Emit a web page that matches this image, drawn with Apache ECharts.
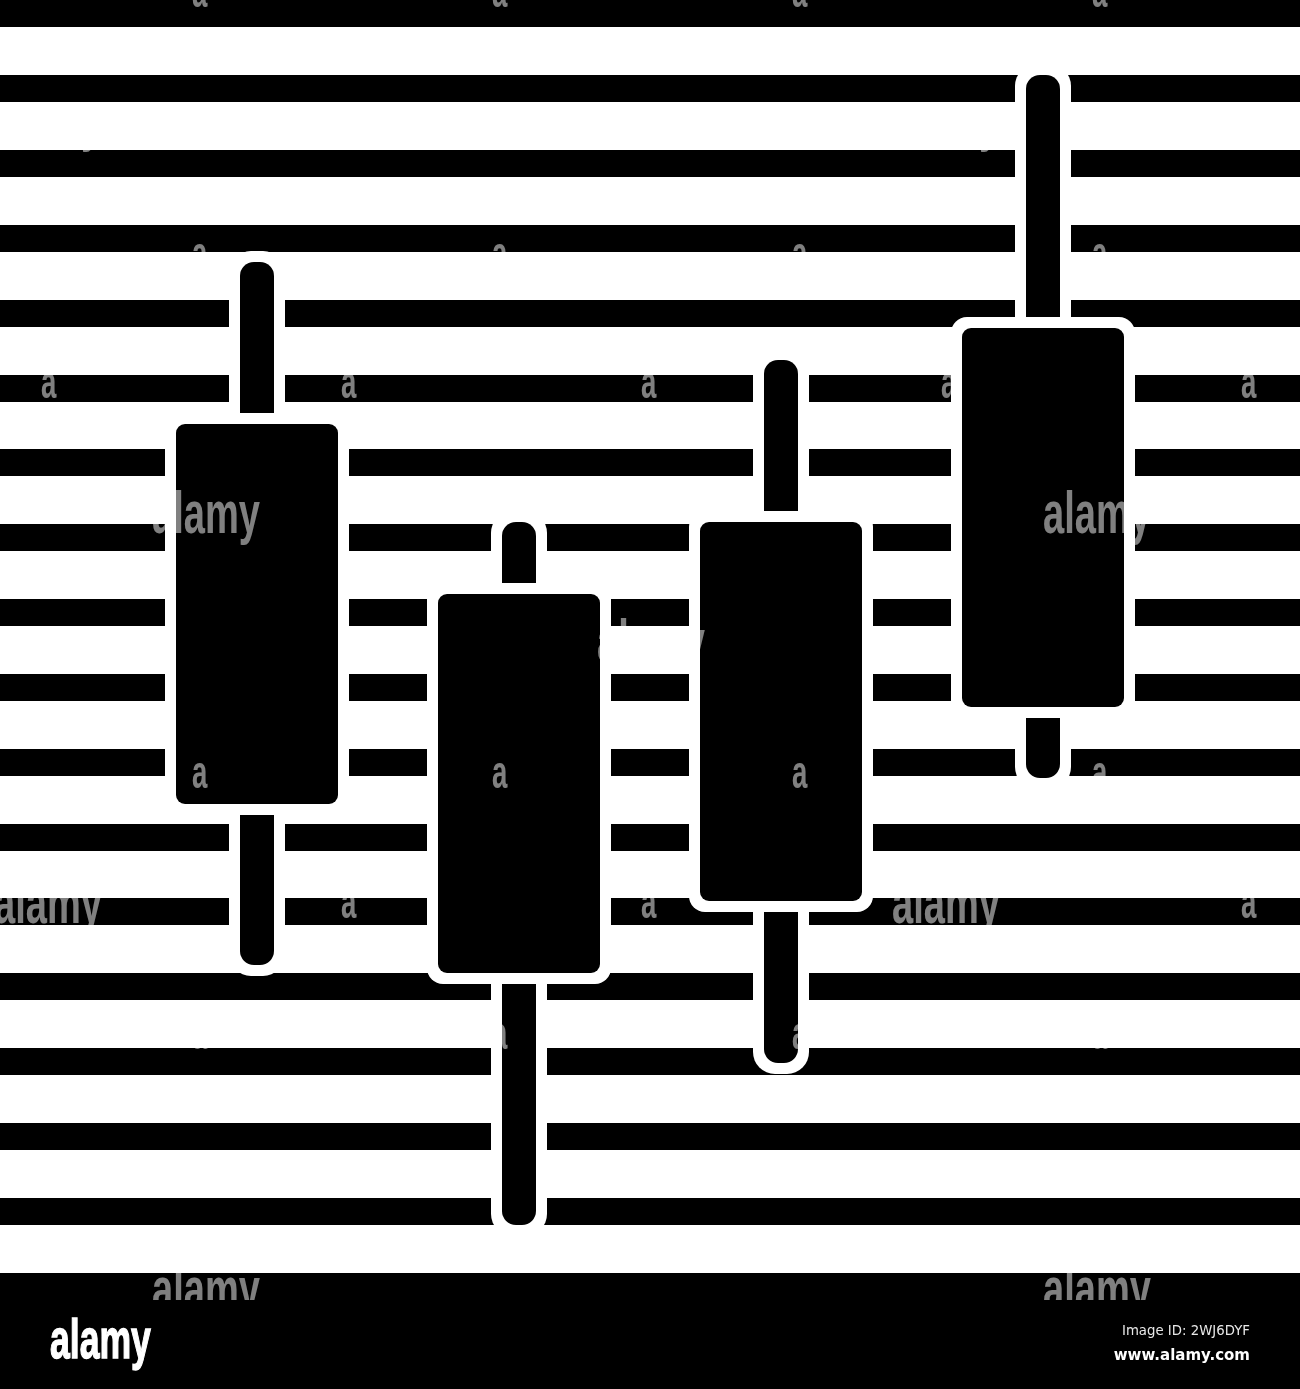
<!DOCTYPE html>
<html>
<head>
<meta charset="utf-8">
<style>html,body{margin:0;padding:0;background:#fff}#c{width:1300px;height:1389px}</style>
<script src="https://cdn.jsdelivr.net/npm/echarts@6/dist/echarts.min.js"></script>
</head>
<body>
<div id="c"></div>
<script>
// Values on a 0-1389 price scale
const categories = ['A', 'B', 'C', 'D'];
const bodyTop    = [965, 795, 867, 1061];
const bodyBottom = [585, 416, 488, 682];
const lows       = [424, 164, 326, 611];
const highs      = [1127, 867, 1029, 1314];
const stripeTops = [1389, 1314, 1239, 1164, 1089, 1014, 940, 865, 790, 715, 640, 565, 491, 416, 341, 266, 191];
const footerBand = [116, 0];
const imageIdText = 'Image ID: 2WJ6DYF';
const siteText = 'www.alamy.com';
const logoText = 'alamy';

const STRIPE_H = 27, BODY_W = 162, WICK_W = 34, GAP = 10, HALO = 11, WM = 'rgba(255,255,255,0.5)';
const wmWords = [[152,534],[1043,534],[597,662],[-6,924],[892,924],[152,1310],[1043,1310]];
const wmTails = [[81,141],[979,141]];
const wmLetters = [[41,399],[341,399],[641,399],[941,399],[1241,399],[341,919],[641,919],[1241,919],
  [192,8],[492,8],[792,8],[1092,8],[192,270],[492,270],[792,270],[1092,270],
  [192,789],[492,789],[792,789],[1092,789],[192,1050],[492,1050],[792,1050],[1092,1050]];

function txt(t, x, baseline, size, bold, fill, scaleX, z, family, align, extra) {
  return {type:'text', x, y: baseline - size * 0.8, scaleX, silent:true, z,
    style:Object.assign({text:t, x:0, y:0, fill, font:(bold ? 'bold ' : '') + size + 'px ' + family, align: align || 'left'}, extra || {})};
}
const SANS = '"Liberation Sans"', DV = '"DejaVu Sans"';
const graphics = [];
wmWords.forEach(p => graphics.push(txt('alamy', p[0], p[1], 60, true, WM, 0.635, 50, SANS)));
wmTails.forEach(p => graphics.push(txt('y', p[0], p[1], 60, true, WM, 0.635, 50, SANS)));
wmLetters.forEach(p => graphics.push(txt('a', p[0], p[1], 46, true, WM, 0.6, 50, SANS)));
graphics.push({type:'rect', z:60, silent:true, shape:{x:0,y:1300,width:1300,height:89}, style:{fill:'#000'}});
graphics.push(txt(logoText, 50, 1359, 55, true, '#fff', 0.647, 70, SANS, 'left', {stroke:'#fff', lineWidth:1.4}));
graphics.push(txt(imageIdText, 1250, 1336, 13.3, false, '#e8e8e8', 1, 70, DV, 'right'));
graphics.push(txt(siteText, 1250, 1361, 15, true, '#fff', 1, 70, DV, 'right'));

function bandItem(params, api, h) {
  const cs = params.coordSys;
  const y = api.coord([0, api.value(0)])[1];
  const y2 = h != null ? y + h : api.coord([0, api.value(1)])[1];
  return {type:'rect', shape:{x:cs.x, y, width:cs.width, height:y2 - y}, style:{fill:'#000'}};
}

function candleItem(params, api) {
  const xc = api.coord([api.value(0), 0])[0];
  const yTop = api.coord([0, api.value(1)])[1];
  const yBot = api.coord([0, api.value(2)])[1];
  const yLow = api.coord([0, api.value(3)])[1];
  const yHigh = api.coord([0, api.value(4)])[1];
  const rect = (x, y, w, h, r, fill) => ({type:'rect', shape:{x, y, width:w, height:h, r}, style:{fill}});
  const hw = WICK_W / 2, bw = BODY_W / 2;
  return {type:'group', children:[
    rect(xc - hw - HALO, yHigh - HALO, WICK_W + 2*HALO, yLow - yHigh + 2*HALO, 22, '#fff'),
    rect(xc - hw, yHigh, WICK_W, yTop - GAP - yHigh, [14,14,0,0], '#000'),
    rect(xc - hw, yBot + GAP, WICK_W, yLow - yBot - GAP, [0,0,14,14], '#000'),
    rect(xc - bw - HALO, yTop - HALO, BODY_W + 2*HALO, yBot - yTop + 2*HALO, 16, '#fff'),
    rect(xc - bw, yTop, BODY_W, yBot - yTop, 9, '#000')
  ]};
}

const chart = echarts.init(document.getElementById('c'), null, {renderer:'canvas'});
const yAx = i => ({type:'value', gridIndex:i, min:0, max:1389, show:false});
chart.setOption({
  animation:false,
  backgroundColor:'#fff',
  grid:[
    {left:0, right:0, top:0, bottom:0},
    {left:126, right:126, top:0, bottom:0}
  ],
  xAxis:[
    {type:'value', gridIndex:0, min:0, max:1, show:false},
    {type:'category', gridIndex:1, data:categories, show:false}
  ],
  yAxis:[yAx(0), yAx(1)],
  graphic:{elements:graphics},
  series:[
    {type:'custom', name:'stripes', xAxisIndex:0, yAxisIndex:0, z:1, silent:true, clip:false,
     data:stripeTops.map(v => [v]),
     renderItem:(p, api) => bandItem(p, api, STRIPE_H)},
    {type:'custom', name:'footer', xAxisIndex:0, yAxisIndex:0, z:1, silent:true, clip:false,
     data:[footerBand],
     renderItem:(p, api) => bandItem(p, api)},
    {type:'custom', name:'candles', xAxisIndex:1, yAxisIndex:1, z:5, silent:true, clip:false,
     data:categories.map((c, i) => [i, bodyTop[i], bodyBottom[i], lows[i], highs[i]]),
     renderItem:candleItem}
  ]
});
</script>
</body>
</html>
